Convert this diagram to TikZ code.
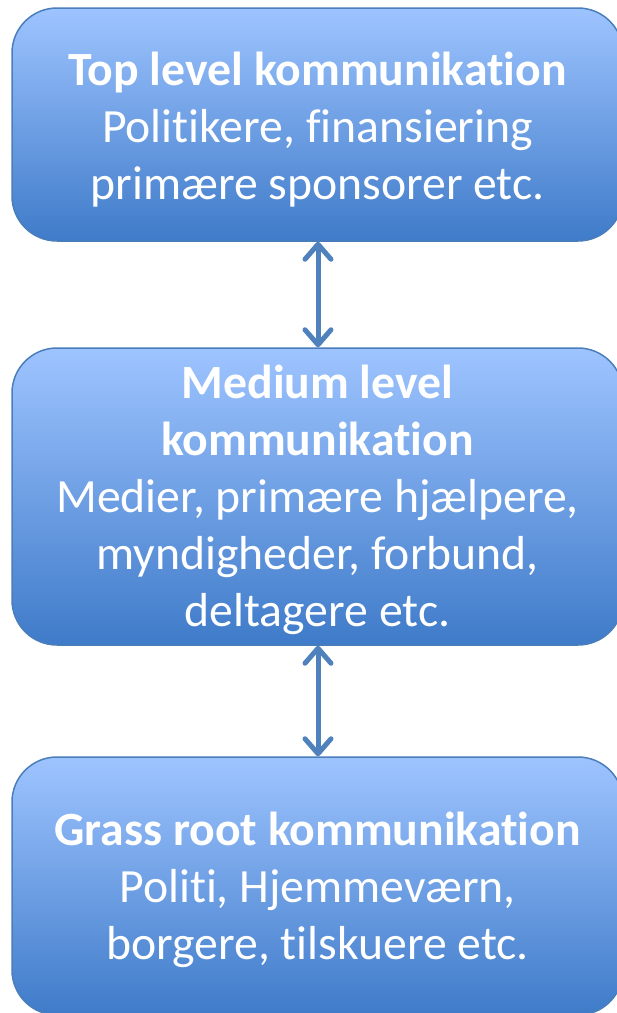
\documentclass[tikz,border=0pt]{standalone}
\usepackage{fontspec}
\setmainfont{Carlito}[Ligatures=NoCommon]
\usetikzlibrary{arrows.meta}
\definecolor{boxtop}{HTML}{9EC4FF}
\definecolor{boxbot}{HTML}{3F7BC9}
\definecolor{boxline}{HTML}{4A7EBB}
\definecolor{arrowc}{HTML}{4F81BD}
\tikzset{
  x=1pt, y=-1pt,
  levelbox/.style={draw=boxline, line width=1.5pt, rounded corners=45pt,
    top color=boxtop, bottom color=boxbot, inner sep=0pt, anchor=center},
  leveltext/.style={text=white, align=center, inner sep=0pt,
    font=\fontsize{47.7}{57}\selectfont, anchor=center},
  linkarrow/.style={draw=arrowc, line width=5pt,
    {Straight Barb[round,length=15pt,width=26pt,line width=5pt]}-{Straight Barb[round,length=15pt,width=26pt,line width=5pt]}}
}
\begin{document}
\begin{tikzpicture}
\useasboundingbox (0,0) rectangle (617,1013);
\clip (0,0) rectangle (617,1013);
\node[levelbox, minimum width=611pt, minimum height=233pt] (top) at (317.5,124.5) {};
\node[levelbox, minimum width=611pt, minimum height=297pt] (mid) at (317.5,496.5) {};
\node[levelbox, minimum width=611pt, minimum height=258pt] (grass) at (317.5,886) {};
\node[leveltext] (toptext) at ([yshift=-5pt]top.center)
  {\textbf{Top level kommunikation}\\Politikere, finansiering\\primære sponsorer etc.};
\node[leveltext] (midtext) at ([yshift=-3.5pt]mid.center)
  {\textbf{Medium level}\\\textbf{kommunikation}\\Medier, primære hjælpere,\\myndigheder, forbund,\\deltagere etc.};
\node[leveltext] (grasstext) at ([yshift=-4pt]grass.center)
  {\textbf{Grass root kommunikation}\\Politi, Hjemmeværn,\\borgere, tilskuere etc.};
\draw[linkarrow] ([xshift=0.5pt]top.south) -- ([xshift=0.5pt]mid.north);
\draw[linkarrow] ([xshift=0.5pt]mid.south) -- ([xshift=0.5pt]grass.north);
\end{tikzpicture}
\end{document}
